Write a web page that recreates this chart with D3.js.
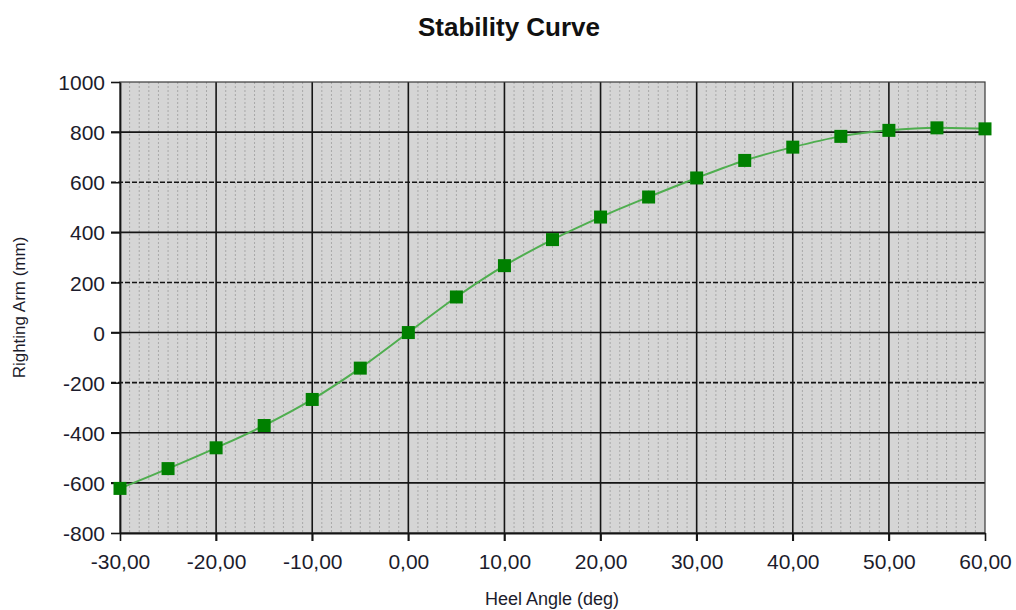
<!DOCTYPE html>
<html>
<head>
<meta charset="utf-8">
<script src="https://cdn.jsdelivr.net/npm/d3@7"></script>
<style>
  body { margin: 0; background: #fff; }
  svg { display: block; font-family: "Liberation Sans", Arial, sans-serif; }
</style>
</head>
<body>
<div id="chart"></div>
<script>
// data
const heelAngles = [-30, -25, -20, -15, -10, -5, 0, 5, 10, 15, 20, 25, 30, 35, 40, 45, 50, 55, 60];
const rightingArm = [-622, -543, -460, -371, -267, -142, 0, 142, 267, 371, 461, 541, 617, 687, 740, 783, 807, 817, 813];
const xTicks = [-30, -20, -10, 0, 10, 20, 30, 40, 50, 60];
const yTicks = [-800, -600, -400, -200, 0, 200, 400, 600, 800, 1000];
const dashedY = [600, 200, -200];

const width = 1016, height = 610;
const margin = { top: 82, right: 31, bottom: 77, left: 120 };

const svg = d3.select('#chart').append('svg')
  .attr('width', width)
  .attr('height', height);

const x = d3.scaleLinear().domain([-30, 60]).range([margin.left, width - margin.right]);
const y = d3.scaleLinear().domain([-800, 1000]).range([height - margin.bottom, margin.top]);

const textColor = '#1c1c2c';

// plot background
svg.append('rect')
  .attr('x', x(-30)).attr('y', y(1000))
  .attr('width', x(60) - x(-30)).attr('height', y(-800) - y(1000))
  .attr('fill', '#d5d5d5');

// minor vertical dotted lines, every degree
const minor = x.ticks(90).filter(d => d % 10 !== 0);
svg.append('g').selectAll('line')
  .data(minor)
  .join('line')
  .attr('x1', d => x(d)).attr('x2', d => x(d))
  .attr('y1', y(1000)).attr('y2', y(-800))
  .attr('stroke', '#a8a8a8')
  .attr('stroke-width', 1)
  .attr('stroke-dasharray', '2,2');

// major grid
svg.append('g').selectAll('line')
  .data(yTicks.filter(d => d !== -800 && d !== 1000))
  .join('line')
  .attr('x1', x(-30) - 9).attr('x2', x(60))
  .attr('y1', d => y(d)).attr('y2', d => y(d))
  .attr('stroke', '#151515')
  .attr('stroke-width', 1.6)
  .attr('stroke-dasharray', d => dashedY.includes(d) ? '5,2' : null);

svg.append('g').selectAll('line')
  .data(xTicks.filter(d => d !== -30 && d !== 60))
  .join('line')
  .attr('x1', d => x(d)).attr('x2', d => x(d))
  .attr('y1', y(1000)).attr('y2', y(-800) + 8)
  .attr('stroke', '#151515')
  .attr('stroke-width', 1.6);

// frame
svg.append('rect')
  .attr('x', x(-30)).attr('y', y(1000))
  .attr('width', x(60) - x(-30)).attr('height', y(-800) - y(1000))
  .attr('fill', 'none')
  .attr('stroke', '#3a3a3a')
  .attr('stroke-width', 1.2);

// axes
const xAxis = svg.append('g')
  .attr('transform', `translate(0,${y(-800)})`)
  .call(d3.axisBottom(x).tickValues(xTicks).tickSize(8).tickSizeOuter(0)
    .tickFormat(d => d3.format('.2f')(d).replace('.', ',').replace('−', '-')));

const yAxis = svg.append('g')
  .attr('transform', `translate(${x(-30)},0)`)
  .call(d3.axisLeft(y).tickValues(yTicks).tickSize(9).tickSizeOuter(0)
    .tickFormat(d => String(d)));

[xAxis, yAxis].forEach(g => {
  g.select('.domain').attr('stroke', '#151515').attr('stroke-width', 1.8);
  g.selectAll('.tick line').attr('stroke', '#151515').attr('stroke-width', 1.6);
  g.selectAll('.tick text')
    .attr('fill', textColor)
    .style('font-size', '21px');
});
xAxis.selectAll('.tick text').attr('dy', '0').attr('y', 36);
yAxis.selectAll('.tick text').attr('x', -15).attr('dy', '0.36em');

// curve
const pts = heelAngles.map((a, i) => ({ a, v: rightingArm[i] }));

svg.append('path')
  .datum(pts)
  .attr('fill', 'none')
  .attr('stroke', '#4fae4f')
  .attr('stroke-width', 2)
  .attr('d', d3.line().x(d => x(d.a)).y(d => y(d.v)).curve(d3.curveMonotoneX));

const ms = 13;
svg.append('g').selectAll('rect')
  .data(pts)
  .join('rect')
  .attr('x', d => x(d.a) - ms / 2)
  .attr('y', d => y(d.v) - ms / 2)
  .attr('width', ms).attr('height', ms)
  .attr('fill', '#008000');

// titles
svg.append('text')
  .attr('x', 509).attr('y', 36)
  .attr('text-anchor', 'middle')
  .attr('fill', '#111')
  .style('font-size', '26px')
  .style('font-weight', 'bold')
  .text('Stability Curve');

svg.append('text')
  .attr('x', 552).attr('y', 605)
  .attr('text-anchor', 'middle')
  .attr('fill', textColor)
  .style('font-size', '18px')
  .text('Heel Angle (deg)');

svg.append('text')
  .attr('transform', `translate(25,${(y(1000) + y(-800)) / 2}) rotate(-90)`)
  .attr('text-anchor', 'middle')
  .attr('fill', textColor)
  .style('font-size', '17px')
  .text('Righting Arm (mm)');
</script>
</body>
</html>
